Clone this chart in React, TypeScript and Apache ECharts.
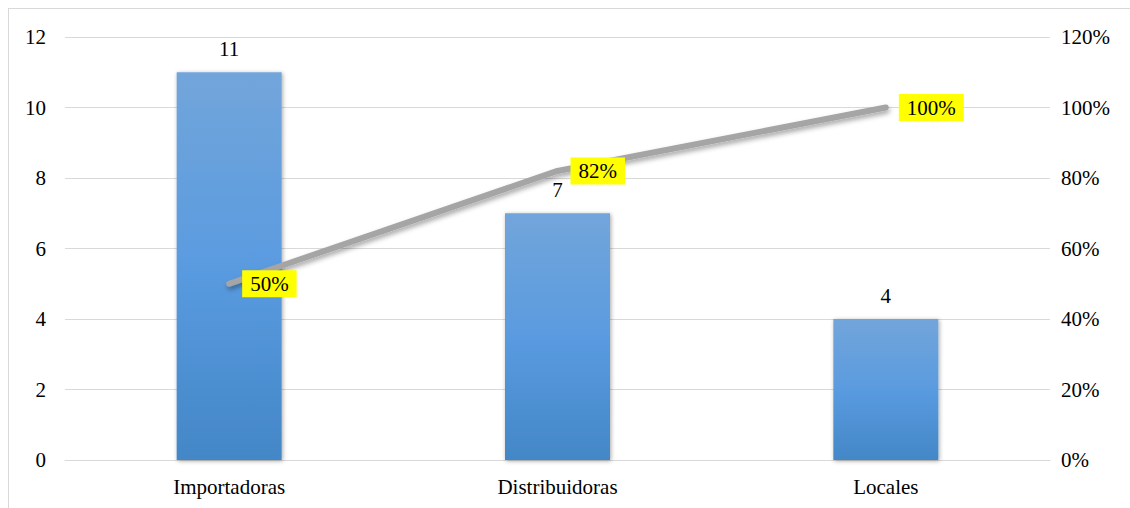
import React, { useEffect, useRef } from "react";
import * as echarts from "echarts";

const categories = ["Importadoras", "Distribuidoras", "Locales"];
const counts = [11, 7, 4];
const cumulativePct = [50, 82, 100];

export default function App() {
  const ref = useRef<HTMLDivElement>(null);
  useEffect(() => {
    if (!ref.current) return;
    const chart = echarts.init(ref.current, null, { renderer: "svg" });
    const font = "Liberation Serif";
    const fs = 21;
    chart.setOption({
      animation: false,
      textStyle: { fontFamily: font },
      grid: { left: 56, right: 80, top: 28, bottom: 48 },
      xAxis: {
        type: "category",
        data: categories,
        axisLine: { lineStyle: { color: "#d9d9d9", width: 1 } },
        axisTick: { show: false },
        axisLabel: { color: "#000", fontSize: fs, fontFamily: font, margin: 16 },
      },
      yAxis: [
        {
          type: "value",
          min: 0,
          max: 12,
          interval: 2,
          axisLine: { show: false },
          axisTick: { show: false },
          splitLine: { lineStyle: { color: "#d9d9d9", width: 1 } },
          axisLabel: { color: "#000", fontSize: fs, fontFamily: font, margin: 19 },
        },
        {
          type: "value",
          min: 0,
          max: 120,
          interval: 20,
          axisLine: { show: false },
          axisTick: { show: false },
          splitLine: { show: false },
          axisLabel: { color: "#000", fontSize: fs, fontFamily: font, margin: 11, formatter: "{value}%" },
        },
      ],
      series: [
        {
          type: "bar",
          data: counts,
          barWidth: 105,
          itemStyle: {
            color: new echarts.graphic.LinearGradient(0, 0, 0, 1, [
              { offset: 0, color: "#72a5da" },
              { offset: 0.5, color: "#5a9be0" },
              { offset: 1, color: "#4387c7" },
            ]),
            shadowColor: "rgba(0,0,0,0.35)",
            shadowBlur: 4,
            shadowOffsetX: 1,
            shadowOffsetY: 1,
          },
          label: {
            show: true,
            position: "top",
            distance: 13,
            color: "#000",
            fontSize: fs,
            fontFamily: font,
          },
        },
        {
          type: "line",
          yAxisIndex: 1,
          data: cumulativePct,
          symbol: "circle",
          symbolSize: 2,
          showSymbol: true,
          lineStyle: {
            color: "#a5a5a5",
            width: 6,
            cap: "round",
            shadowColor: "rgba(0,0,0,0.35)",
            shadowBlur: 5,
            shadowOffsetY: 3,
            shadowOffsetX: 1,
          },
          itemStyle: { color: "#a5a5a5" },
          label: {
            show: true,
            position: "right",
            distance: 12,
            formatter: "{c}%",
            backgroundColor: "#ffff00",
            padding: [4, 8, 2, 8],
            color: "#000",
            fontSize: fs,
            fontFamily: font,
          },
          z: 5,
        },
      ],
    });
    return () => chart.dispose();
  }, []);
  return (
    <div
      style={{
        position: "absolute",
        left: 8,
        top: 8,
        width: 1130,
        height: 510,
        border: "1px solid #d9d9d9",
        boxSizing: "border-box",
        background: "#fff",
      }}
    >
      <div ref={ref} style={{ width: 1121, height: 499 }} />
    </div>
  );
}
